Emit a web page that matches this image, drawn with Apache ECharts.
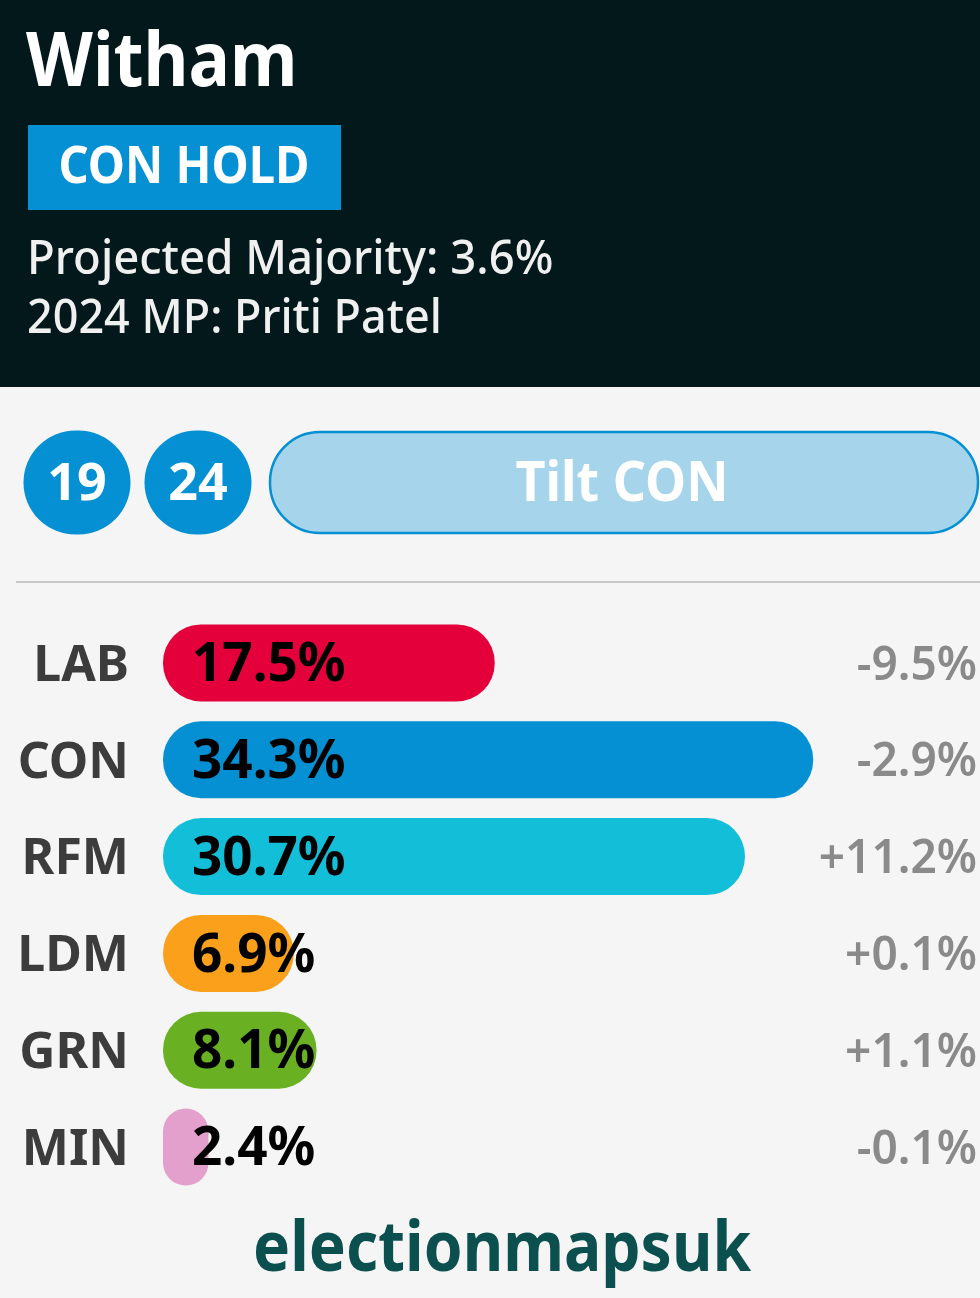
<!DOCTYPE html>
<html>
<head>
<meta charset="utf-8">
<style>
  html, body { margin: 0; padding: 0; background: #f5f5f5; }
  #chart { width: 980px; height: 1298px; }
</style>
<script src="https://cdn.jsdelivr.net/npm/echarts@6/dist/echarts.min.js"></script>
</head>
<body>
<div id="chart"></div>
<script>
// seat card data
const seat = 'Witham';
const result = 'CON HOLD';
const majority = 'Projected Majority: 3.6%';
const mp = '2024 MP: Priti Patel';
const pastYears = ['19', '24'];
const tilt = 'Tilt CON';
const brand = 'electionmapsuk';

const parties = ['LAB', 'CON', 'RFM', 'LDM', 'GRN', 'MIN'];
const shares = [17.5, 34.3, 30.7, 6.9, 8.1, 2.4];
const changes = ['-9.5%', '-2.9%', '+11.2%', '+0.1%', '+1.1%', '-0.1%'];
const partyColors = ['#e4003b', '#0490d2', '#12bed8', '#faa01a', '#6ab023', '#e4a0cc'];

const FONT = '"Noto Sans", sans-serif';
const conBlue = '#0490d2';

const chart = echarts.init(document.getElementById('chart'));

// the original font is narrower than Noto Sans, so squeeze it with scaleX
function txt(x, y, text, size, weight, fill, scaleX, extra) {
  return {
    type: 'text',
    x: x,
    y: y,
    scaleX: scaleX,
    z: 10,
    style: Object.assign({
      text: text,
      font: weight + ' ' + size + 'px ' + FONT,
      fill: fill,
      textVerticalAlign: 'middle'
    }, extra || {})
  };
}

function roundel(cx, label) {
  return [
    { type: 'rect', shape: { x: cx - 53.5, y: 430.5, width: 107, height: 104, r: 52 }, style: { fill: conBlue }, z: 5 },
    txt(cx, 485, label, 52, 700, '#ffffff', 1, { textAlign: 'center' })
  ];
}

const option = {
  backgroundColor: '#f5f5f5',
  animation: false,
  // grid 0 holds the bars, grid 1 only the row labels (they sit a little lower)
  grid: [
    { left: 163, right: 0, top: 614.5, height: 581 },
    { left: 163, width: 821, top: 618, height: 581 }
  ],
  xAxis: [
    { type: 'value', min: 0, max: 43.1, show: false },
    { type: 'value', gridIndex: 1, min: 0, max: 43.1, show: false }
  ],
  yAxis: [
    { type: 'category', data: parties, inverse: true, show: false },
    {
      type: 'category',
      gridIndex: 1,
      data: parties,
      inverse: true,
      axisLine: { show: false },
      axisTick: { show: false },
      axisLabel: { margin: 34, fontFamily: FONT, fontSize: 50, fontWeight: 700, color: '#3c3c3c' }
    },
    {
      type: 'category',
      gridIndex: 1,
      data: changes,
      inverse: true,
      position: 'right',
      axisLine: { show: false },
      axisTick: { show: false },
      axisLabel: { margin: 0, align: 'right', fontFamily: FONT, fontSize: 46, fontWeight: 600, color: '#8a8a8a' }
    }
  ],
  series: [{
    type: 'bar',
    yAxisIndex: 0,
    barWidth: 77,
    data: shares.map((v, i) => ({ value: v, itemStyle: { color: partyColors[i] } })),
    itemStyle: { borderRadius: 38 },
    label: {
      show: true,
      position: 'insideLeft',
      distance: 29,
      offset: [0, 3],
      formatter: p => p.value.toFixed(1) + '%',
      fontFamily: FONT,
      fontSize: 53,
      fontWeight: 700,
      color: '#000000'
    }
  }],
  graphic: [
    { type: 'rect', shape: { x: 0, y: 0, width: 980, height: 387 }, style: { fill: '#02181b' }, z: 1 },
    txt(26, 64, seat, 76, 700, '#ffffff', 0.91),
    { type: 'rect', shape: { x: 28, y: 125, width: 313, height: 85 }, style: { fill: conBlue }, z: 5 },
    txt(184, 168, result, 52, 700, '#ffffff', 0.905, { textAlign: 'center' }),
    txt(27, 261, majority, 47, 500, '#f0f0f0', 0.968),
    txt(27, 320, mp, 47, 500, '#f0f0f0', 0.956),
    ...roundel(77, pastYears[0]),
    ...roundel(198, pastYears[1]),
    {
      type: 'rect',
      shape: { x: 270, y: 432, width: 708, height: 101, r: 50 },
      style: { fill: '#a6d5eb', stroke: conBlue, lineWidth: 2.5 },
      z: 5
    },
    txt(622, 485, tilt, 56, 700, '#ffffff', 0.93, { textAlign: 'center' }),
    { type: 'line', shape: { x1: 16, y1: 582, x2: 980, y2: 582 }, style: { stroke: '#c8c8c8', lineWidth: 2 }, z: 5 },
    txt(502, 1251, brand, 70, 700, '#0b4f4f', 0.89, { textAlign: 'center' })
  ]
};

chart.setOption(option);
</script>
</body>
</html>
